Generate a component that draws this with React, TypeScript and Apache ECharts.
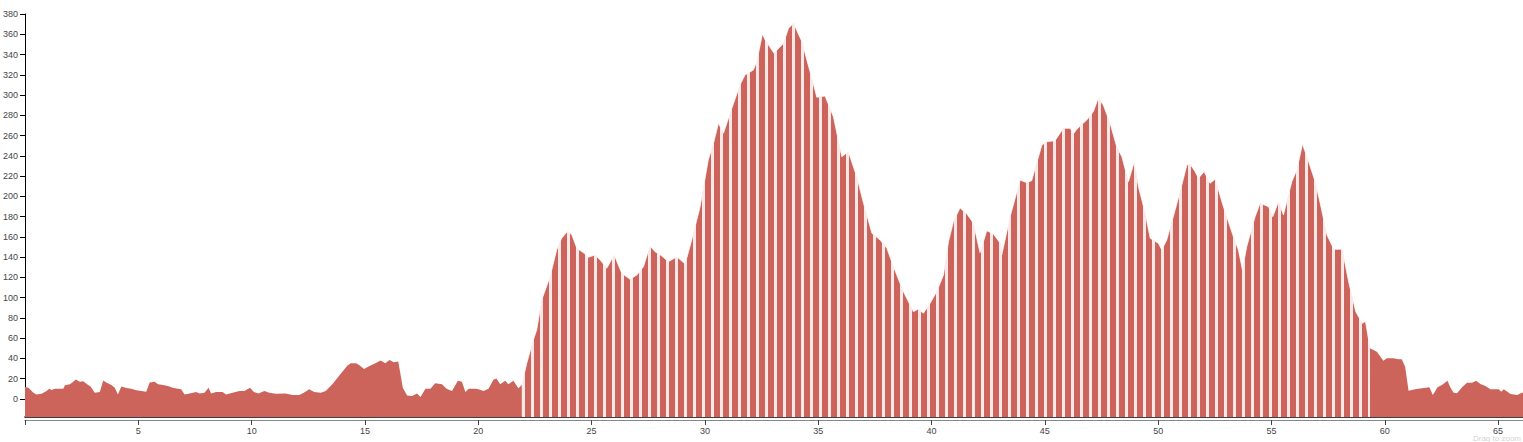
import React, { useEffect, useRef } from "react";
import * as echarts from "echarts";

const distanceKm = [
  0, 0.15, 0.37, 0.5, 0.73, 0.95, 1.07, 1.17, 1.32, 1.69, 1.76, 1.98, 2.13, 2.24, 2.42, 2.57, 2.74, 2.89, 3.08, 3.3,
  3.45, 3.59, 3.81, 3.96, 4.1, 4.25, 4.47, 4.69, 4.91, 5.13, 5.35, 5.5, 5.72, 5.87, 6.09, 6.3, 6.52, 6.74, 6.89, 7.04,
  7.26, 7.55, 7.7, 7.92, 8.1, 8.21, 8.43, 8.72, 8.87, 9.16, 9.46, 9.68, 9.93, 10.1, 10.3, 10.56, 10.78, 11.07, 11.5, 11.8,
  12.1, 12.3, 12.54, 12.76, 13.05, 13.27, 13.56, 13.86, 14.22, 14.37, 14.6, 14.74, 14.96, 15.18, 15.48, 15.69, 15.9, 16.08, 16.27, 16.47,
  16.67, 16.86, 17.08, 17.3, 17.45, 17.67, 17.89, 18.1, 18.4, 18.6, 18.84, 19.1, 19.28, 19.43, 19.58, 19.87, 20.01, 20.23, 20.45, 20.67,
  20.8, 20.97, 21.19, 21.33, 21.55, 21.77, 21.92,
  22.14, 22.43, 22.58, 22.8, 23.17, 23.46, 23.68, 23.95, 24.13, 24.35, 24.64, 24.86, 25.15, 25.38, 25.67, 26.0, 26.33, 26.7, 27.0, 27.29,
  27.58, 27.8, 28.1, 28.39, 28.76, 29.13, 29.42, 29.79, 30.15, 30.38, 30.6, 30.82, 31.19, 31.55, 31.77, 32.14, 32.29, 32.54, 32.66, 33.05,
  33.47, 33.69, 33.91, 34.28, 34.64, 34.94, 35.3, 35.67, 36.04, 36.33, 36.7, 37.0, 37.37, 37.73, 38.03, 38.32, 38.76, 39.2, 39.42, 39.64,
  39.94, 40.23, 40.53, 40.75, 40.97, 41.26, 41.56, 41.85, 42.14, 42.44, 42.73, 43.03, 43.1, 43.47, 43.91, 44.2, 44.42, 44.87, 45.09, 45.45,
  45.82, 46.12, 46.26, 46.41, 46.85, 47.14, 47.36, 47.58, 47.88, 48.17, 48.4, 48.69, 48.95, 49.13, 49.43, 49.65, 50.01, 50.16, 50.38, 50.67,
  50.97, 51.27, 51.41, 51.63, 51.78, 52.03, 52.29, 52.52, 52.88, 53.32, 53.54, 53.72, 53.91, 54.28, 54.5, 54.87, 55.06, 55.31, 55.53, 55.9,
  56.12, 56.37, 56.64, 56.93, 57.15, 57.45, 57.75, 58.12, 58.42, 58.72, 59.0, 59.15, 59.35,
  59.65, 59.94, 60.09, 60.38, 60.6, 60.75, 60.9, 61.05, 61.34, 61.64, 61.97, 62.12, 62.33, 62.52, 62.77, 62.89, 63.04, 63.19, 63.41, 63.63,
  63.85, 64.03, 64.22, 64.44, 64.66, 65.03, 65.14, 65.25, 65.55, 65.84, 66.06, 66.1,
];

const elevation = [
  11.7, 11, 6, 4.3, 5, 7.7, 10, 8.7, 10, 10, 13.3, 14.3, 16.7, 19, 16.7, 17.3, 14.3, 12, 6, 6.7,
  18, 16, 13.7, 11, 4.3, 12, 10.7, 10, 8.3, 7.7, 7, 16, 16.7, 14.3, 13.7, 12.7, 11, 10, 9.3, 4.3,
  5.3, 6.7, 5.3, 6, 11, 5.3, 6.7, 6.7, 4.3, 6, 7.7, 7.7, 11, 6.7, 5.3, 7.7, 6, 5, 5.3, 3.7,
  3.7, 6, 9.3, 6.7, 6, 7.7, 14.3, 22.7, 32.7, 35, 35, 33.3, 29.3, 32, 35.3, 37.7, 35, 38.3, 36, 36.7,
  11, 3.3, 2.7, 5.3, 1.7, 10, 10, 15.3, 14.3, 10, 7.7, 17.7, 16.7, 6.7, 10, 10, 9.3, 7.7, 10, 18.7,
  20, 14.3, 17.7, 14.3, 17.7, 10.4, 13.6,
  35, 58, 68, 97.6, 120.6, 147, 158.5, 165.7, 161.8, 148.6, 144.3, 139.7, 142, 137, 128.9, 142, 124, 118, 122.3, 130.5,
  150.9, 145.3, 141, 135.4, 140.3, 133.1, 156.8, 189.7, 235.8, 252.3, 272, 262.2, 286.9, 309.9, 319.8, 324.7, 332.9, 360.3, 354.3, 341.2,
  351.1, 365.9, 370.8, 352.7, 323, 297.7, 299, 278.6, 239.1, 244, 219.3, 193.1, 163.4, 156.8, 148.6, 130.5, 105.8, 86, 88.7, 84.4,
  94.3, 105.8, 122.3, 155, 175, 188.5, 182.5, 173.3, 144.3, 166, 162.7, 153.6, 142, 179.8, 216, 213.4, 215.4, 250.6, 253.9, 254.9,
  267.1, 267.1, 261.5, 266.1, 275.3, 283.5, 296.8, 290.1, 272, 248.9, 239.1, 214.4, 234.1, 209.5, 183.2, 158.5, 153.6, 147, 156.8, 179.8,
  204.5, 230.9, 231.9, 224.3, 217.8, 224.3, 212.8, 216.8, 189.7, 160.1, 147, 127.2, 150.2, 179.8, 193.1, 189.7, 179.8, 194.7, 181.5, 214.4,
  226, 251.3, 234.1, 214.4, 193.1, 161.8, 147.6, 147.6, 114, 86, 74.6, 76.2, 50,
  46.5, 37.5, 40, 40, 39, 39, 31.7, 8, 9.4, 10.4, 11.4, 3.8, 11.4, 13.6, 17.9, 11.4, 6, 5.4, 11.4, 15.9,
  15.9, 17.9, 14.6, 12.6, 9.4, 9.4, 7, 9.4, 4.7, 3.8, 6, 6,
];

const stripeFrom = 21.92;
const stripeTo = 59.35;
const yTickValues = [0, 20, 40, 60, 80, 100, 120, 140, 160, 180, 200, 220, 240, 260, 280, 300, 320, 340, 360, 380];
const xTickValues = [5, 10, 15, 20, 25, 30, 35, 40, 45, 50, 55, 60, 65];

const RED = "#cd645b";

export default function App() {
  const ref = useRef<HTMLDivElement>(null);
  useEffect(() => {
    document.body.style.margin = "0";
    const chart = echarts.init(ref.current!, undefined, { renderer: "svg" });
    const pts = distanceKm.map((d, i) => [d, elevation[i]]);
    const before = pts.filter((p) => p[0] <= stripeFrom);
    const striped = pts.filter((p) => p[0] >= stripeFrom && p[0] <= stripeTo);
    const after = pts.filter((p) => p[0] >= stripeTo);

    const solid = (data: number[][]) => ({
      type: "line",
      data,
      symbol: "none",
      xAxisIndex: 0,
      yAxisIndex: 0,
      lineStyle: { width: 0, opacity: 0 },
      itemStyle: { color: RED },
      areaStyle: { color: RED, opacity: 1, origin: "start" },
      silent: true,
    });

    chart.setOption({
      animation: false,
      grid: { left: 25, right: 0, top: 14, bottom: 25 },
      xAxis: [
        {
          type: "value",
          min: 0,
          max: 66.1,
          position: "bottom",
          axisLine: { show: true, onZero: false, lineStyle: { color: "#000", width: 1.5 } },
          axisTick: { show: false },
          axisLabel: { show: false },
          splitLine: { show: false },
        },
        {
          type: "value",
          min: 0,
          max: 66.1,
          position: "bottom",
          offset: 3,
          axisLine: { show: true, onZero: false, lineStyle: { color: "#888", width: 1 } },
          axisTick: { show: true, length: 5, customValues: [0, ...xTickValues], lineStyle: { color: "#444" } },
          axisLabel: { customValues: xTickValues, fontSize: 9, color: "#444", margin: 6, fontFamily: "Arial" },
          splitLine: { show: false },
        },
      ],
      yAxis: {
        type: "value",
        min: -18,
        max: 380,
        axisLine: { show: true, lineStyle: { color: "#000", width: 1 } },
        axisTick: { show: true, length: 5, customValues: yTickValues, lineStyle: { color: "#000" } },
        axisLabel: { customValues: yTickValues, fontSize: 9, color: "#444", margin: 7, fontFamily: "Arial" },
        splitLine: { show: false },
      },
      series: [
        solid(before),
        {
          type: "line",
          data: striped,
          symbol: "none",
          xAxisIndex: 0,
          yAxisIndex: 0,
          lineStyle: { color: "rgba(255,255,255,0.7)", width: 1 },
          itemStyle: {
            color: RED,
            decal: {
              symbol: "rect",
              symbolSize: 1,
              color: "rgba(255,255,255,0.85)",
              dashArrayX: [3, 5.7],
              dashArrayY: [1, 0],
              rotation: 0,
            },
          },
          areaStyle: { color: RED, opacity: 1, origin: "start" },
          silent: true,
        },
        solid(after),
      ],
      graphic: [
        {
          type: "text",
          right: 2,
          bottom: 0,
          style: { text: "Drag to zoom", fontSize: 8, fill: "#d4d4d4", fontFamily: "Arial" },
          silent: true,
        },
      ],
    });
    return () => chart.dispose();
  }, []);
  return <div ref={ref} style={{ width: 1523, height: 442 }} />;
}
